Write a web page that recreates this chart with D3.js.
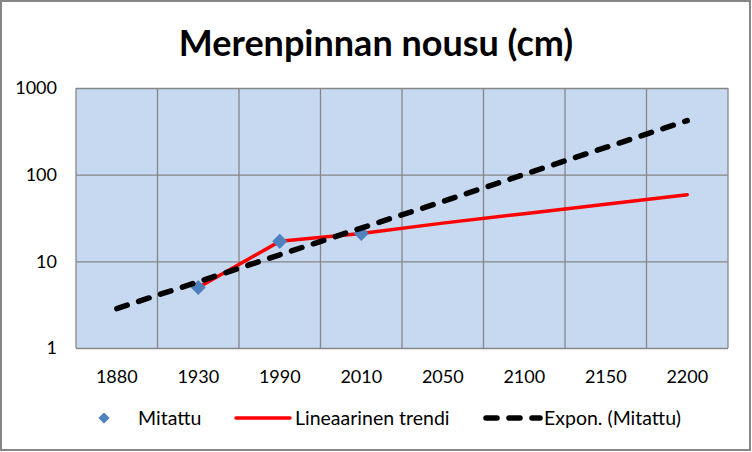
<!DOCTYPE html>
<html><head><meta charset="utf-8">
<script src="https://cdn.jsdelivr.net/npm/d3@7/dist/d3.min.js"></script>
<style>html,body{margin:0;padding:0;background:#fff;}svg{display:block;font-family:Lato,"Open Sans",sans-serif;}</style>
</head><body>
<svg id="c" width="752" height="452"></svg>
<script>
const categories = ["1880","1930","1990","2010","2050","2100","2150","2200"];
const mitattu = [null, 5, 17, 21, null, null, null, null];
const lineaarinen = [null, 5, 17, 21, 27.6, 35.5, 45.7, 58.7];
const expon = [2.85, 5.8, 11.9, 24.2, 49, 101, 206, 420];
const yTicks = [1, 10, 100, 1000];
const title = "Merenpinnan nousu (cm)";
const legendLabels = ["Mitattu", "Lineaarinen trendi", "Expon. (Mitattu)"];

const svg = d3.select("#c");
const W = 752, H = 452;
const plot = {l: 76, r: 728, t: 88, b: 348};

svg.append("rect").attr("x",1).attr("y",1).attr("width",W-3).attr("height",H-3)
  .attr("fill","#fff").attr("stroke","#868686").attr("stroke-width",2);

svg.append("text").attr("x",376).attr("y",56).attr("text-anchor","middle")
  .attr("font-size",36).attr("font-weight","bold").attr("fill","#000").text(title);

const x = d3.scaleBand().domain(categories).range([plot.l, plot.r]);
const y = d3.scaleLog().domain([1,1000]).range([plot.b, plot.t]);

svg.append("rect").attr("x",plot.l).attr("y",plot.t).attr("width",plot.r-plot.l).attr("height",plot.b-plot.t)
  .attr("fill","#C6D9F1");

const gy = svg.append("g").attr("transform",`translate(${plot.l},0)`)
  .call(d3.axisLeft(y).tickValues(yTicks).tickSize(-(plot.r-plot.l)).tickFormat(d3.format("d")));
gy.select(".domain").remove();
gy.selectAll(".tick line").attr("stroke","#868686").attr("stroke-width",1.3);
gy.selectAll(".tick text").attr("x",-19).attr("font-size",18).attr("fill","#000").attr("font-family","Lato,sans-serif");

const xBounds = categories.map(c => x(c)).concat([plot.r]);
svg.append("g").selectAll("line").data(xBounds).join("line")
  .attr("x1",d=>d).attr("x2",d=>d).attr("y1",plot.t).attr("y2",plot.b)
  .attr("stroke","#868686").attr("stroke-width",1.3);

const gx = svg.append("g").attr("transform",`translate(0,${plot.b})`)
  .call(d3.axisBottom(x).tickSize(0).tickPadding(22));
gx.select(".domain").remove();
gx.selectAll(".tick text").attr("font-size",18).attr("fill","#000").attr("font-family","Lato,sans-serif");

const cx = c => x(c) + x.bandwidth()/2;

const redData = categories.map((c,i)=>({c, v: lineaarinen[i]})).filter(d=>d.v!=null);
svg.append("path").datum(redData)
  .attr("d", d3.line().x(d=>cx(d.c)).y(d=>y(d.v)))
  .attr("fill","none").attr("stroke","#FF0000").attr("stroke-width",3.5).attr("stroke-linejoin","round").attr("stroke-linecap","round");

const diamond = d3.symbol().type(d3.symbolDiamond2).size(145);
const ptData = categories.map((c,i)=>({c, v: mitattu[i]})).filter(d=>d.v!=null);
svg.append("g").selectAll("path").data(ptData).join("path")
  .attr("transform", d=>`translate(${cx(d.c)},${y(d.v)})`)
  .attr("d", diamond).attr("fill","#4F81BD");

const expData = categories.map((c,i)=>({c, v: expon[i]}));
svg.append("path").datum(expData)
  .attr("d", d3.line().x(d=>cx(d.c)).y(d=>y(d.v)))
  .attr("fill","none").attr("stroke","#000").attr("stroke-width",5.5)
  .attr("stroke-dasharray","11 12").attr("stroke-linecap","round");

const ly = 418;
const lg = svg.append("g").attr("font-size",19.5).attr("fill","#000");
lg.append("path").attr("transform",`translate(104,${ly})`).attr("d", d3.symbol().type(d3.symbolDiamond2).size(80)).attr("fill","#4F81BD");
lg.append("text").attr("x",138).attr("y",ly).attr("dy","0.35em").text(legendLabels[0]);
lg.append("line").attr("x1",236).attr("x2",290).attr("y1",ly).attr("y2",ly).attr("stroke","#FF0000").attr("stroke-width",3.5).attr("stroke-linecap","round");
lg.append("text").attr("x",295).attr("y",ly).attr("dy","0.35em").text(legendLabels[1]);
lg.append("line").attr("x1",486).attr("x2",540).attr("y1",ly).attr("y2",ly).attr("stroke","#000").attr("stroke-width",5.5).attr("stroke-dasharray","11 12").attr("stroke-linecap","round");
lg.append("text").attr("x",544).attr("y",ly).attr("dy","0.35em").text(legendLabels[2]);
</script>
</body></html>
